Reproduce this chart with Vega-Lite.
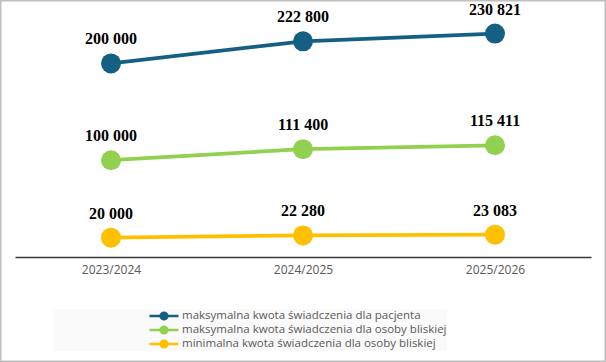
{
  "$schema": "https://vega.github.io/schema/vega-lite/v6.json",
  "width": 606,
  "height": 362,
  "autosize": "none",
  "padding": 0,
  "background": "white",
  "config": {
    "view": {"stroke": "#c0c0c0", "strokeWidth": 3},
    "locale": {"number": {"decimal": ",", "thousands": " ", "grouping": [3], "currency": ["", ""]}}
  },
  "data": {
    "values": [
      {"rok": "2023/2024", "seria": "maksymalna kwota świadczenia dla pacjenta", "kwota": 200000},
      {"rok": "2024/2025", "seria": "maksymalna kwota świadczenia dla pacjenta", "kwota": 222800},
      {"rok": "2025/2026", "seria": "maksymalna kwota świadczenia dla pacjenta", "kwota": 230821},
      {"rok": "2023/2024", "seria": "maksymalna kwota świadczenia dla osoby bliskiej", "kwota": 100000},
      {"rok": "2024/2025", "seria": "maksymalna kwota świadczenia dla osoby bliskiej", "kwota": 111400},
      {"rok": "2025/2026", "seria": "maksymalna kwota świadczenia dla osoby bliskiej", "kwota": 115411},
      {"rok": "2023/2024", "seria": "minimalna kwota świadczenia dla osoby bliskiej", "kwota": 20000},
      {"rok": "2024/2025", "seria": "minimalna kwota świadczenia dla osoby bliskiej", "kwota": 22280},
      {"rok": "2025/2026", "seria": "minimalna kwota świadczenia dla osoby bliskiej", "kwota": 23083}
    ]
  },
  "encoding": {
    "x": {
      "field": "rok", "type": "ordinal", "sort": null,
      "scale": {"type": "point", "range": [15, 591], "padding": 0.5},
      "axis": {"title": null, "orient": "bottom", "offset": -105, "domainColor": "#3a3a3a", "domainWidth": 1.5, "ticks": false, "labelAngle": 0, "labelFont": "Open Sans", "labelFontSize": 12, "labelColor": "#595959", "labelPadding": 7, "grid": false}
    },
    "y": {
      "field": "kwota", "type": "quantitative",
      "scale": {"domain": [0, 250000], "range": [257, 15]},
      "axis": null
    },
    "color": {
      "field": "seria", "type": "nominal", "sort": null,
      "scale": {
        "domain": ["maksymalna kwota świadczenia dla pacjenta", "maksymalna kwota świadczenia dla osoby bliskiej", "minimalna kwota świadczenia dla osoby bliskiej"],
        "range": ["#156082", "#92d050", "#ffc000"]
      },
      "legend": {
        "orient": "none", "legendX": 53, "legendY": 309, "title": null, "direction": "vertical",
        "symbolType": "M-1,0H1M-0.23,0A0.23,0.23 0 1,0 0.23,0A0.23,0.23 0 1,0 -0.23,0Z",
        "symbolSize": 841, "symbolStrokeWidth": 2.5, "clipHeight": 14, "rowPadding": 0,
        "symbolOffset": 95, "labelOffset": 2,
        "labelFont": "Open Sans", "labelFontSize": 11.5, "labelColor": "#595959", "labelLimit": 500,
        "fillColor": "#fafafa", "padding": 0,
        "encode": {"symbols": {"update": {"fill": {"scale": "color", "field": "value"}, "stroke": {"scale": "color", "field": "value"}, "opacity": {"value": 1}}}}
      }
    }
  },
  "layer": [
    {"mark": {"type": "line", "strokeWidth": 3.75}},
    {"mark": {"type": "point", "filled": true, "size": 400, "opacity": 1}},
    {
      "mark": {"type": "text", "font": "Liberation Serif", "fontWeight": "bold", "fontSize": 16, "dy": -19, "baseline": "alphabetic"},
      "encoding": {"text": {"field": "kwota", "type": "quantitative", "format": ","}, "color": {"value": "black"}}
    }
  ]
}
